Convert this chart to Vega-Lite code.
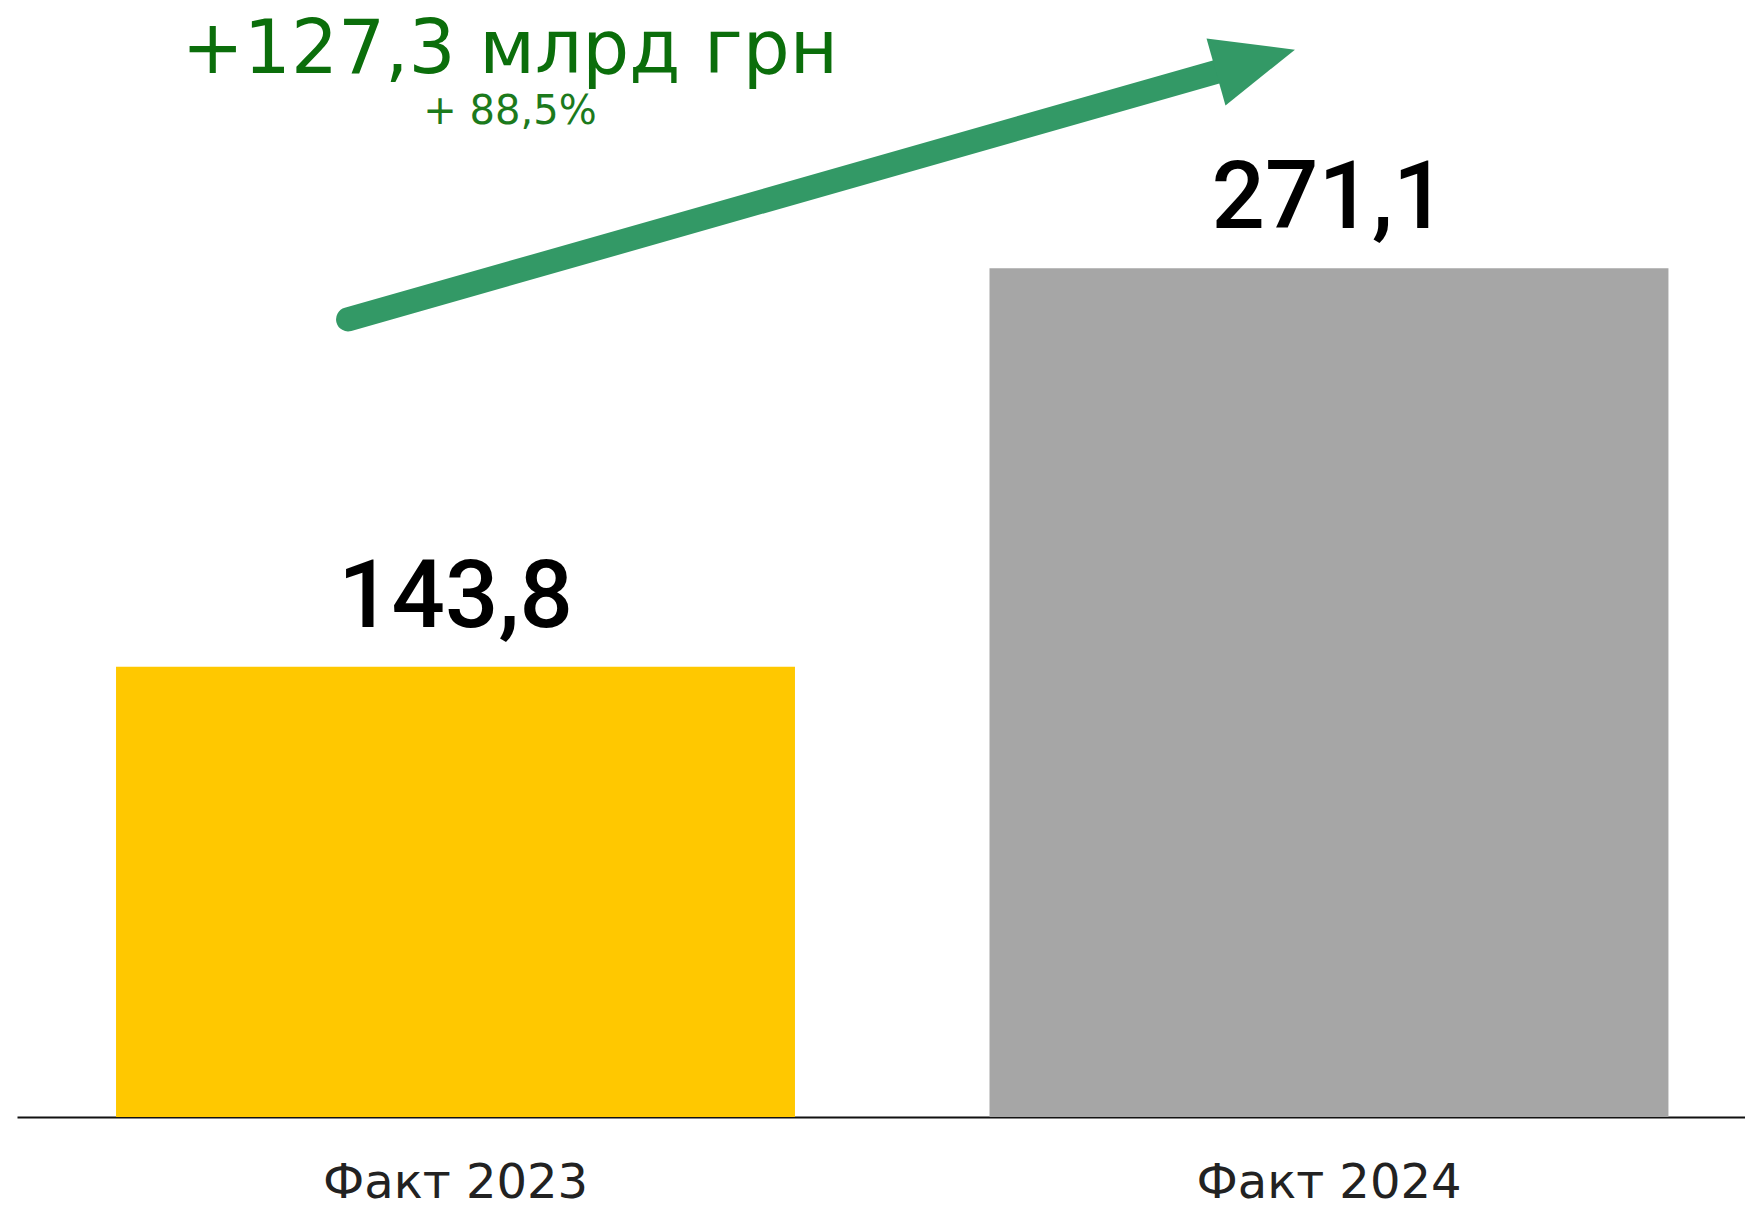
{
  "$schema": "https://vega.github.io/schema/vega-lite/v6.json",
  "autosize": "none",
  "width": 1728,
  "height": 987,
  "padding": {"left": 17, "right": 0, "top": 130, "bottom": 92},
  "background": "white",
  "config": {"view": {"stroke": null}},
  "title": {
    "text": "+127,3 млрд грн",
    "subtitle": "+ 88,5%",
    "anchor": "start",
    "align": "center",
    "dx": 493,
    "offset": -95,
    "subtitlePadding": 3,
    "font": "DejaVu Sans",
    "fontSize": 74,
    "fontWeight": "normal",
    "color": "#0b6e0b",
    "subtitleFont": "DejaVu Sans",
    "subtitleFontSize": 40,
    "subtitleColor": "#1c7a1c"
  },
  "datasets": {
    "bars": [
      {"category": "Факт 2023", "value": 143.8, "label": "143,8"},
      {"category": "Факт 2024", "value": 271.1, "label": "271,1"}
    ],
    "arrow": [
      {"part": "shaft", "x": 0.1916, "y": 254.8, "x2": 0.699, "y2": 334.6}
    ],
    "head": [
      {"part": "head", "x": 0.7167, "y": 337.4}
    ]
  },
  "layer": [
    {
      "data": {"name": "bars"},
      "encoding": {
        "x": {
          "field": "category",
          "type": "nominal",
          "sort": null,
          "scale": {"paddingInner": 0.2227, "paddingOuter": 0.1005, "align": 0.564},
          "axis": {
            "title": null,
            "labelAngle": 0,
            "ticks": false,
            "tickSize": 0,
            "labelPadding": 80,
            "labelLimit": 0,
            "labelBaseline": "alphabetic",
            "labelFont": "DejaVu Sans",
            "labelFontSize": 48,
            "labelColor": "#222222",
            "domainColor": "#111111",
            "domainWidth": 2,
            "grid": false
          }
        },
        "y": {
          "field": "value",
          "type": "quantitative",
          "scale": {"domain": [0, 315.3], "nice": false, "zero": true},
          "axis": null
        }
      },
      "layer": [
        {
          "mark": {"type": "bar"},
          "encoding": {
            "color": {
              "field": "category",
              "type": "nominal",
              "scale": {"domain": ["Факт 2023", "Факт 2024"], "range": ["#FFC800", "#A6A6A6"]},
              "legend": null
            }
          }
        },
        {
          "mark": {
            "type": "text",
            "baseline": "alphabetic",
            "align": "center",
            "dy": -40,
            "font": "Roboto",
            "fontWeight": 500,
            "fontSize": 94,
            "color": "#000000"
          },
          "encoding": {"text": {"field": "label"}}
        }
      ]
    },
    {
      "layer": [
        {
          "data": {"name": "arrow"},
          "mark": {"type": "rule", "strokeWidth": 24, "strokeCap": "round", "color": "#339966"},
          "encoding": {
            "x": {"field": "x", "type": "quantitative", "scale": {"domain": [0, 1], "nice": false, "zero": false}, "axis": null},
            "y": {"field": "y", "type": "quantitative", "axis": null},
            "x2": {"field": "x2"},
            "y2": {"field": "y2"},
            "size": {"value": 24}
          }
        },
        {
          "data": {"name": "head"},
          "mark": {
            "type": "point",
            "shape": "M-1,-0.85L1,0L-1,0.85Z",
            "size": 6724,
            "angle": 344.2,
            "filled": true,
            "opacity": 1,
            "strokeWidth": 0,
            "color": "#339966"
          },
          "encoding": {
            "x": {"field": "x", "type": "quantitative", "scale": {"domain": [0, 1], "nice": false, "zero": false}, "axis": null},
            "y": {"field": "y", "type": "quantitative", "axis": null}
          }
        }
      ]
    }
  ],
  "resolve": {"scale": {"x": "independent"}, "axis": {"x": "independent"}}
}
